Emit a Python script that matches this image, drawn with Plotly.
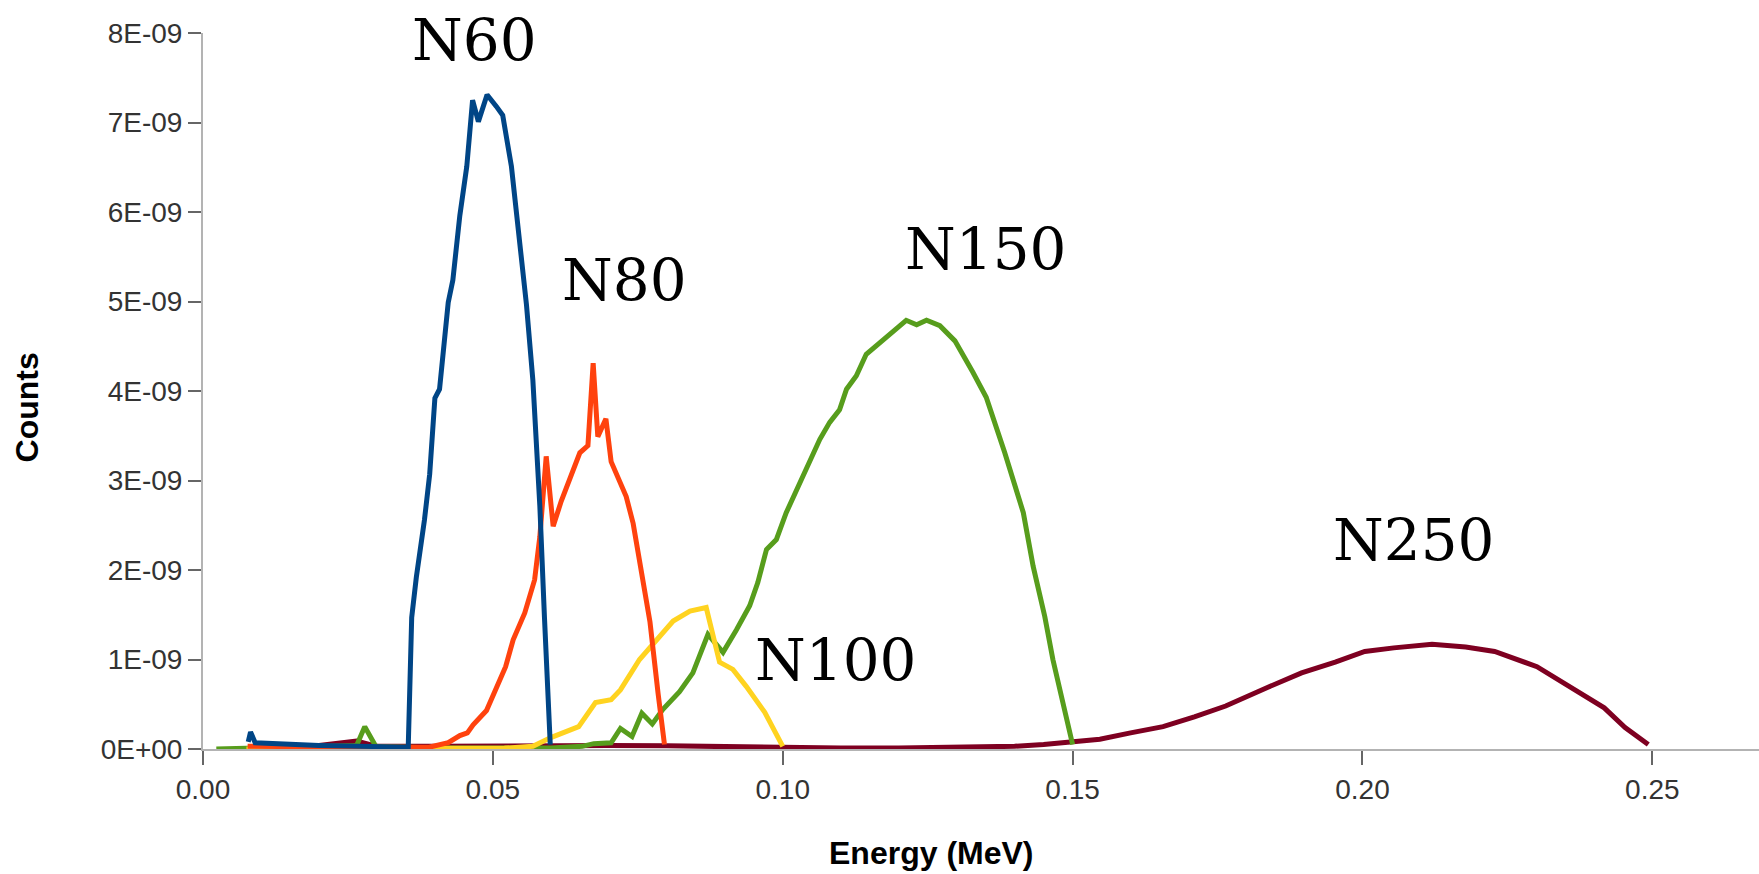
import plotly.graph_objects as go

# ---------------- data ----------------
n60_x = [0.0078, 0.0082, 0.0090, 0.0200, 0.0354, 0.0360, 0.0368, 0.0375, 0.0382, 0.0391,
         0.0400, 0.0408, 0.0414, 0.0423, 0.0431, 0.0443, 0.0455, 0.0465, 0.0475, 0.0490,
         0.0506, 0.0517, 0.0532, 0.0546, 0.0558, 0.0569, 0.0581, 0.0589, 0.0599]
n60_y = [0.08, 0.19, 0.07, 0.04, 0.02, 1.47, 1.92, 2.22, 2.56, 3.07,
         3.92, 4.02, 4.41, 4.99, 5.24, 5.96, 6.51, 7.25, 7.01, 7.31,
         7.18, 7.08, 6.51, 5.71, 4.96, 4.12, 2.72, 1.47, 0.05]

n80_x = [0.0077, 0.0200, 0.0350, 0.0390, 0.0423, 0.0443, 0.0456, 0.0466, 0.0489, 0.0512,
         0.0522, 0.0535, 0.0555, 0.0572, 0.0581, 0.0592, 0.0604, 0.0618, 0.0635, 0.0650,
         0.0664, 0.0673, 0.0681, 0.0695, 0.0704, 0.0719, 0.0730, 0.0742, 0.0756, 0.0771,
         0.0785, 0.0796]
n80_y = [0.03, 0.02, 0.02, 0.02, 0.07, 0.15, 0.18, 0.27, 0.43, 0.77,
         0.92, 1.22, 1.52, 1.89, 2.37, 3.27, 2.49, 2.77, 3.05, 3.31,
         3.39, 4.31, 3.49, 3.69, 3.21, 2.99, 2.82, 2.52, 2.02, 1.42,
         0.62, 0.05]

n100_x = [0.0075, 0.0200, 0.0400, 0.0520, 0.0569, 0.0601, 0.0648, 0.0677, 0.0704, 0.0720,
          0.0753, 0.0782, 0.0811, 0.0840, 0.0868, 0.0891, 0.0914, 0.0937, 0.0969, 0.1000]
n100_y = [0.0, 0.0, 0.0, 0.01, 0.03, 0.13, 0.25, 0.52, 0.55, 0.66,
          1.00, 1.22, 1.43, 1.54, 1.58, 0.97, 0.89, 0.70, 0.41, 0.03]

n150_x = [0.0023, 0.0080, 0.0200, 0.0265, 0.0279, 0.0298, 0.0400, 0.0500, 0.0600, 0.0654,
          0.0674, 0.0704, 0.0720, 0.0740, 0.0757, 0.0775, 0.0793, 0.0822, 0.0845, 0.0871,
          0.0897, 0.0920, 0.0943, 0.0957, 0.0972, 0.0989, 0.1006, 0.1035, 0.1064, 0.1081,
          0.1098, 0.1110, 0.1127, 0.1144, 0.1164, 0.1185, 0.1213, 0.1231, 0.1248, 0.1271,
          0.1297, 0.1328, 0.1351, 0.1383, 0.1415, 0.1432, 0.1452, 0.1466, 0.1484, 0.1500]
n150_y = [0.0, 0.01, 0.02, 0.04, 0.25, 0.03, 0.01, 0.01, 0.01, 0.03,
          0.06, 0.07, 0.23, 0.14, 0.40, 0.28, 0.44, 0.64, 0.85, 1.28,
          1.08, 1.33, 1.60, 1.86, 2.23, 2.34, 2.64, 3.05, 3.46, 3.65,
          3.79, 4.02, 4.17, 4.41, 4.52, 4.65, 4.79, 4.74, 4.79, 4.73,
          4.56, 4.21, 3.93, 3.31, 2.64, 2.04, 1.48, 1.00, 0.48, 0.05]

n250_x = [0.0080, 0.0200, 0.0265, 0.0300, 0.0400, 0.0500, 0.0600, 0.0700, 0.0800, 0.0900,
          0.1000, 0.1100, 0.1200, 0.1300, 0.1400, 0.1450, 0.1500, 0.1547, 0.1600, 0.1656,
          0.1710, 0.1764, 0.1837, 0.1895, 0.1953, 0.2004, 0.2054, 0.2120, 0.2178, 0.2228,
          0.2301, 0.2337, 0.2366, 0.2417, 0.2453, 0.2493]
n250_y = [0.02, 0.04, 0.09, 0.03, 0.03, 0.035, 0.035, 0.04, 0.035, 0.025,
          0.015, 0.01, 0.01, 0.015, 0.03, 0.05, 0.08, 0.11, 0.18, 0.25,
          0.36, 0.48, 0.69, 0.85, 0.97, 1.09, 1.13, 1.17, 1.14, 1.09,
          0.92, 0.78, 0.66, 0.46, 0.24, 0.05]

series_names = ["N250", "N150", "N100", "N80", "N60"]
series_colors = ["#7e0021", "#579d1c", "#ffd320", "#ff420e", "#004586"]

x_tick_vals = [0.00, 0.05, 0.10, 0.15, 0.20, 0.25]
x_tick_text = ["0.00", "0.05", "0.10", "0.15", "0.20", "0.25"]
y_tick_vals = [0, 1e-9, 2e-9, 3e-9, 4e-9, 5e-9, 6e-9, 7e-9, 8e-9]
y_tick_text = ["0E+00", "1E-09", "2E-09", "3E-09", "4E-09", "5E-09", "6E-09", "7E-09", "8E-09"]

# label anchor points (energy MeV, counts in 1E-09)
label_names = ["N60", "N80", "N150", "N100", "N250"]
label_x = [0.0468, 0.0727, 0.1350, 0.1091, 0.2088]
label_y = [7.92, 5.24, 5.59, 0.99, 2.33]

# ---------------- figure ----------------
series_x = {"N60": n60_x, "N80": n80_x, "N100": n100_x, "N150": n150_x, "N250": n250_x}
series_y = {"N60": n60_y, "N80": n80_y, "N100": n100_y, "N150": n150_y, "N250": n250_y}

fig = go.Figure()
for name, col in zip(series_names, series_colors):
    fig.add_trace(go.Scatter(
        x=series_x[name],
        y=[v * 1e-9 for v in series_y[name]],
        mode="lines", name=name,
        line=dict(color=col, width=5),
        hoverinfo="skip",
    ))

for t, lx, ly in zip(label_names, label_x, label_y):
    fig.add_annotation(x=lx, y=ly * 1e-9, xref="x", yref="y", text=t, showarrow=False,
                       xanchor="center", yanchor="middle",
                       font=dict(family="DejaVu Serif", size=58, color="#000000"))

fig.add_annotation(text="Energy (MeV)", xref="paper", yref="paper", x=0.4677, y=-0.1448,
                   showarrow=False, xanchor="center", yanchor="middle",
                   font=dict(family="Liberation Sans", size=32, color="#000000", weight="bold"))
fig.add_annotation(text="Counts", xref="paper", yref="paper", x=-0.1125, y=0.477,
                   showarrow=False, xanchor="center", yanchor="middle", textangle=-90,
                   font=dict(family="Liberation Sans", size=32, color="#000000", weight="bold"))

axis_font = dict(family="Liberation Sans", size=28, color="#333333")
fig.update_layout(
    width=1759, height=874,
    margin=dict(l=203, r=0, t=33, b=125, pad=0),
    paper_bgcolor="white", plot_bgcolor="white",
    showlegend=False,
    xaxis=dict(range=[0, 0.2684], tickvals=x_tick_vals, ticktext=x_tick_text,
               showgrid=False, zeroline=False, showline=True, linecolor="#b3b3b3", linewidth=2,
               ticks="outside", ticklen=14, tickwidth=2, tickcolor="#666666",
               tickfont=axis_font),
    yaxis=dict(range=[0, 8e-9], tickvals=y_tick_vals, ticktext=y_tick_text,
               showgrid=False, zeroline=False, showline=True, linecolor="#b3b3b3", linewidth=2,
               ticks="outside", ticklen=13, tickwidth=2, tickcolor="#666666",
               tickfont=axis_font),
)

fig.write_html("out.html")
